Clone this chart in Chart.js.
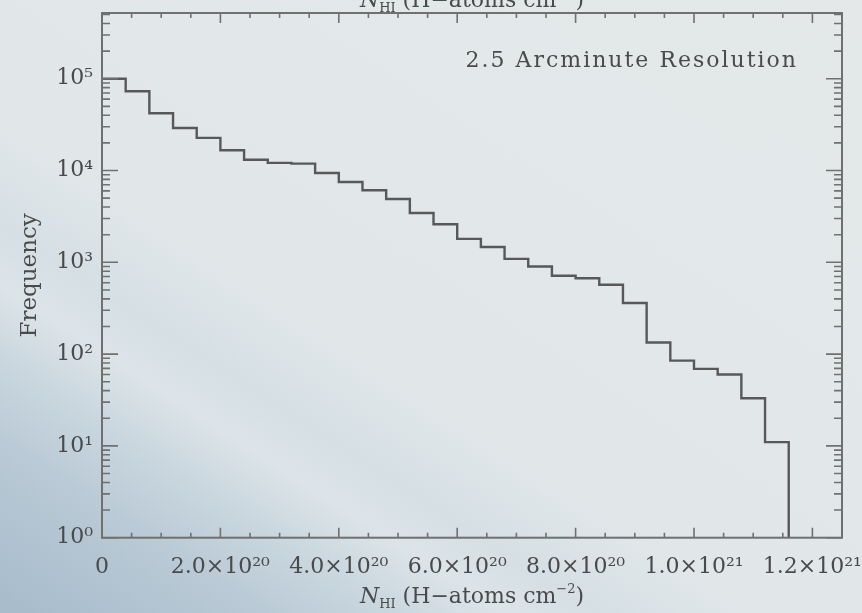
<!DOCTYPE html>
<html>
<head>
<meta charset="utf-8">
<script src="https://cdn.jsdelivr.net/npm/chart.js@4"></script>
<style>
  html, body { margin: 0; padding: 0; }
  body {
    width: 862px; height: 613px; overflow: hidden;
    background: linear-gradient(33deg, #a6bbcb 0%, #b9c9d5 14%, #cad7df 22%, #dce4e8 28%, #d5dfe4 33%, #e1e7e9 42%, #e4e8e9 100%);
  }
  #wrap { position: relative; width: 900px; height: 613px; }
  canvas { display: block; }
</style>
</head>
<body>
<div id="wrap"><canvas id="histChart" width="900" height="613"></canvas></div>
<script>
// N_HI bins, left edges in units of 1e20 H-atoms cm^-2
const binStart = [0, 0.4, 0.8, 1.2, 1.6, 2.0, 2.4, 2.8, 3.2, 3.6, 4.0, 4.4, 4.8, 5.2, 5.6,
  6.0, 6.4, 6.8, 7.2, 7.6, 8.0, 8.4, 8.8, 9.2, 9.6, 10.0, 10.4, 10.8, 11.2];
const lastEdge = 11.6;
const counts = [1.0e5, 7.3e4, 4.2e4, 2.9e4, 2.27e4, 1.66e4, 1.31e4, 1.21e4, 1.19e4, 9.4e3,
  7.5e3, 6.1e3, 4.9e3, 3.45e3, 2.6e3, 1.8e3, 1.47e3, 1.09e3, 900, 715,
  670, 570, 360, 134, 85, 69, 60, 33, 11];

const xTickValues = [0, 2, 4, 6, 8, 10, 12];
const xTickLabels = ["0", "2.0×10²⁰", "4.0×10²⁰", "6.0×10²⁰", "8.0×10²⁰", "1.0×10²¹", "1.2×10²¹"];
const yTickValues = [1, 10, 100, 1000, 10000, 100000];
const yTickLabels = ["10⁰", "10¹", "10²", "10³", "10⁴", "10⁵"];

const xMax = 12.5;
const yMax = 5.2e5;
const textColor = "#4a4a4a";
const axisColor = "#707070";
const labelFont = "DejaVu Serif";

// step points: each bin's left edge with its count, then drop to the floor at the last edge
const points = binStart.map((x, i) => ({ x: x, y: counts[i] }));
points.push({ x: lastEdge, y: 1 });

// draws "N_HI (H-atoms cm^-2)" centred on cx
const drawNTitle = (ctx, cx, base) => {
  const parts = [
    { t: "N", f: "italic 22px " + labelFont, dy: 0 },
    { t: "HI", f: "13px " + labelFont, dy: 5 },
    { t: " (H−atoms cm", f: "22px " + labelFont, dy: 0 },
    { t: "−2", f: "13px " + labelFont, dy: -10 },
    { t: ")", f: "22px " + labelFont, dy: 0 }
  ];
  let total = 0;
  parts.forEach(p => { ctx.font = p.f; p.w = ctx.measureText(p.t).width; total += p.w; });
  let x = cx - total / 2;
  ctx.textAlign = "left";
  ctx.textBaseline = "alphabetic";
  parts.forEach(p => { ctx.font = p.f; ctx.fillText(p.t, x, base + p.dy); x += p.w; });
};

// IDL-style frame with inward ticks on all four sides, plus titles
const idlAxes = {
  id: "idlAxes",
  afterDatasetsDraw(chart) {
    const { ctx, chartArea: a, scales } = chart;
    const x = scales.x, y = scales.y;
    ctx.save();
    ctx.strokeStyle = axisColor;
    ctx.lineWidth = 1.6;
    ctx.beginPath();
    for (let v = 0; v <= xMax + 1e-9; v += 0.5) {
      const px = x.getPixelForValue(v);
      const len = xTickValues.includes(v) ? 10 : 5;
      ctx.moveTo(px, a.bottom); ctx.lineTo(px, a.bottom - len);
      ctx.moveTo(px, a.top); ctx.lineTo(px, a.top + len);
    }
    for (let k = 0; k <= 5; k++) {
      for (let m = 1; m <= 9; m++) {
        const v = m * Math.pow(10, k);
        if (v > yMax) break;
        const py = y.getPixelForValue(v);
        const len = m === 1 ? 16 : 8;
        ctx.moveTo(a.left, py); ctx.lineTo(a.left + len, py);
        ctx.moveTo(a.right, py); ctx.lineTo(a.right - len, py);
      }
    }
    ctx.stroke();
    ctx.lineWidth = 2;
    ctx.strokeRect(a.left, a.top, a.right - a.left, a.bottom - a.top);

    ctx.fillStyle = textColor;
    const cx = (a.left + a.right) / 2;
    drawNTitle(ctx, cx, 603);
    drawNTitle(ctx, cx, 7);

    ctx.font = "22px " + labelFont;
    ctx.letterSpacing = "2px";
    ctx.textAlign = "right";
    ctx.textBaseline = "middle";
    ctx.fillText("2.5 Arcminute Resolution", a.right - 44, 61);
    ctx.restore();
  }
};

const ctx = document.getElementById("histChart").getContext("2d");

new Chart(ctx, {
  type: "line",
  data: {
    datasets: [{
      data: points,
      stepped: "before",
      borderColor: "#585858",
      borderWidth: 2.4,
      pointRadius: 0,
      fill: false
    }]
  },
  options: {
    responsive: false,
    animation: false,
    layout: { padding: { top: 13, right: 58, left: 0, bottom: 0 } },
    plugins: { legend: { display: false }, tooltip: { enabled: false } },
    scales: {
      x: {
        type: "linear",
        min: 0,
        max: xMax,
        grid: { display: false, drawTicks: false },
        border: { display: false },
        afterBuildTicks: s => { s.ticks = xTickValues.map(v => ({ value: v })); },
        afterFit: s => { s.height = 75.3; },
        ticks: {
          autoSkip: false,
          maxRotation: 0,
          padding: 16,
          color: textColor,
          font: { family: labelFont, size: 22 },
          callback: (v, i) => xTickLabels[i]
        }
      },
      y: {
        type: "logarithmic",
        min: 1,
        max: yMax,
        grid: { display: false, drawTicks: false },
        border: { display: false },
        afterBuildTicks: s => { s.ticks = yTickValues.map(v => ({ value: v })); },
        afterFit: s => { s.width = 102; s.paddingTop = 0; s.paddingBottom = 0; },
        title: {
          display: true,
          text: "Frequency",
          color: textColor,
          font: { family: labelFont, size: 23 },
          padding: { top: 16, bottom: 0 }
        },
        ticks: {
          padding: 9,
          color: textColor,
          font: { family: labelFont, size: 22 },
          callback: (v, i) => yTickLabels[i]
        }
      }
    }
  },
  plugins: [idlAxes]
});
</script>
</body>
</html>
